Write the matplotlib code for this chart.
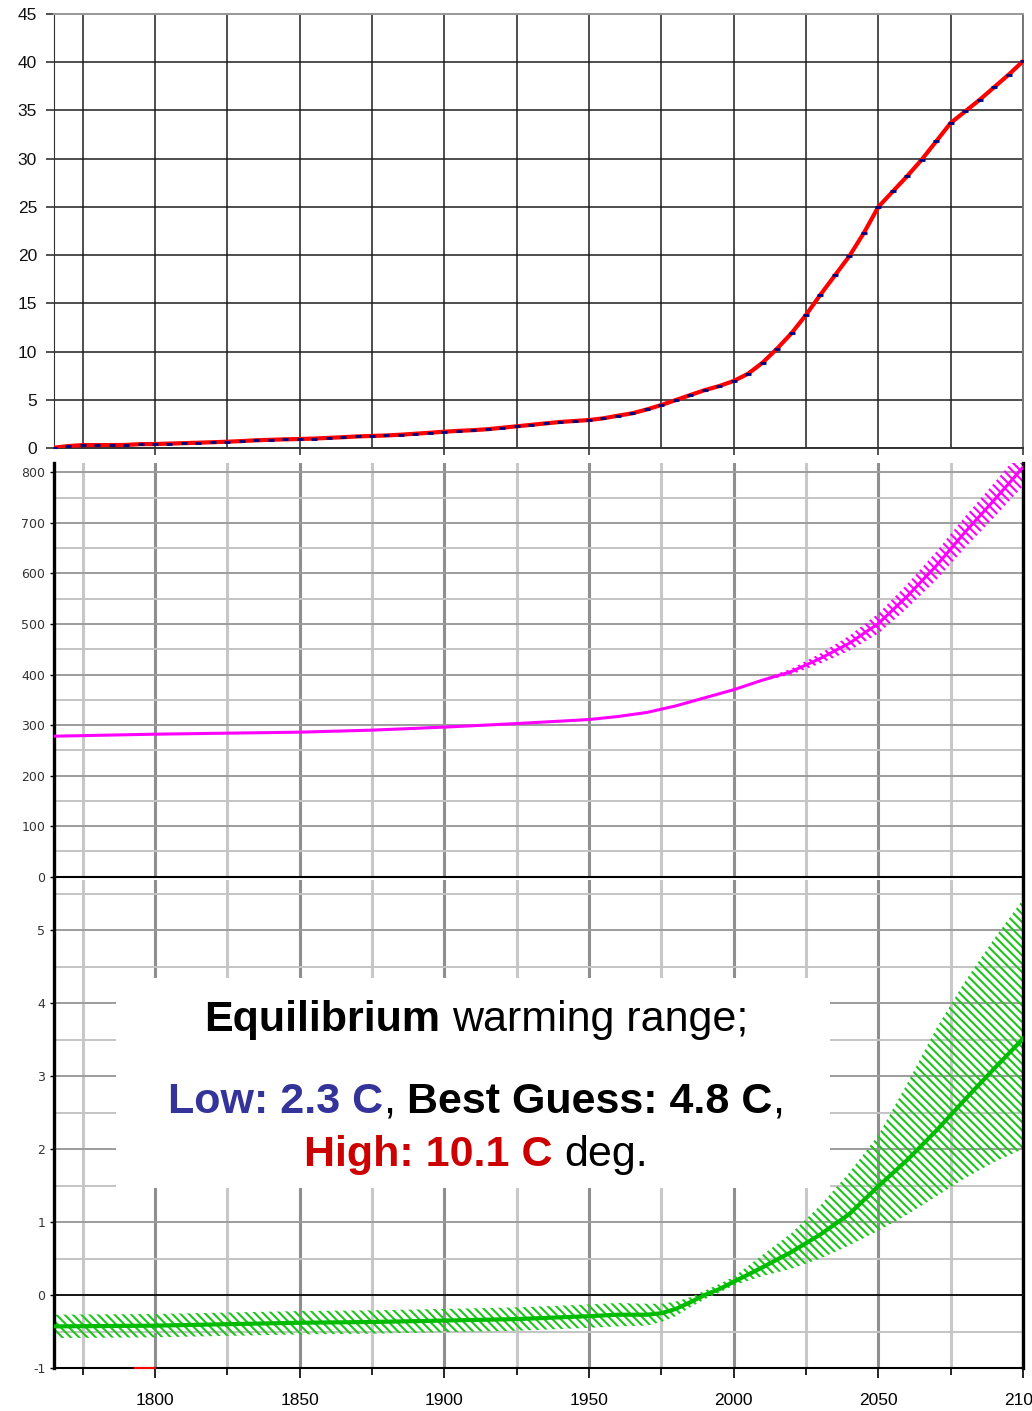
import numpy as np
import matplotlib
matplotlib.use("Agg")
import matplotlib.pyplot as plt
from matplotlib.patches import Rectangle

# ---------------------------------------------------------------- data
# cumulative emissions, every 5 years
emis_years = list(range(1765, 2101, 5))
emis_values = [0.03, 0.20, 0.30, 0.30, 0.30, 0.32, 0.40, 0.41,
               0.46, 0.50, 0.55, 0.60, 0.65, 0.72, 0.80, 0.85, 0.90, 0.93,
               0.98, 1.05, 1.12, 1.20, 1.25, 1.30, 1.38, 1.48, 1.58, 1.69,
               1.78, 1.85, 1.95, 2.10, 2.25, 2.40, 2.55, 2.70, 2.80, 2.90,
               3.08, 3.35, 3.60, 4.00, 4.46, 4.97, 5.49, 6.00, 6.42, 6.95,
               7.70, 8.85, 10.3, 11.9, 13.8, 15.9, 17.9, 19.9, 22.3, 25.0,
               26.6, 28.2, 29.9, 31.8, 33.7, 34.9, 36.1, 37.4, 38.7, 40.1]

# CO2 concentration (ppm)
co2_years = [1765, 1800, 1825, 1850, 1875, 1900, 1925, 1950, 1960, 1970, 1980,
             1990, 2000, 2010, 2020, 2030, 2040, 2050, 2060, 2070, 2080, 2090, 2100]
co2_mid = [278, 282, 284, 286, 290, 296, 303, 311, 317, 325, 338,
           354, 370, 389, 406, 432, 462, 501, 555, 615, 682, 745, 810]
co2_band_years = [2000, 2010, 2020, 2030, 2040, 2050, 2060, 2070, 2080, 2090, 2100]
co2_high = [370, 391, 412, 442, 477, 521, 579, 643, 713, 779, 847]
co2_low = [370, 387, 400, 422, 447, 481, 531, 587, 651, 711, 773]

# temperature change (deg C)
temp_years = [1765, 1800, 1825, 1850, 1875, 1900, 1925, 1950, 1960, 1970, 1975, 1980, 1985,
              1990, 1995, 2000, 2010, 2020, 2030, 2040, 2050, 2060, 2070, 2080, 2090, 2100]
temp_mid = [-0.43, -0.42, -0.40, -0.38, -0.37, -0.35, -0.33, -0.29, -0.27, -0.27, -0.25, -0.19,
            -0.10, 0.00, 0.08, 0.18, 0.38, 0.59, 0.83, 1.11, 1.49, 1.85, 2.25, 2.68, 3.10, 3.51]
temp_high = [-0.27, -0.26, -0.24, -0.22, -0.21, -0.19, -0.17, -0.13, -0.11, -0.12, -0.12, -0.09,
             -0.03, 0.06, 0.15, 0.25, 0.55, 0.85, 1.23, 1.68, 2.19, 2.90, 3.65, 4.30, 4.88, 5.42]
temp_low = [-0.59, -0.58, -0.56, -0.54, -0.53, -0.51, -0.49, -0.45, -0.43, -0.42, -0.37, -0.29,
            -0.17, -0.06, 0.03, 0.13, 0.26, 0.36, 0.50, 0.68, 0.88, 1.10, 1.35, 1.60, 1.82, 2.00]

stub_years = [1793, 1800]
stub_values = [-1.0, -1.0]

year_labels = ["1800", "1850", "1900", "1950", "2000", "2050", "2100"]

# ---------------------------------------------------------------- figure
W, H, DPI = 1032, 1411, 100
plt.rcParams["hatch.linewidth"] = 1.5
plt.rcParams["axes.unicode_minus"] = False
fig = plt.figure(figsize=(W / DPI, H / DPI), dpi=DPI)

X0_PX, X1_PX = 53.7, 1023.0
XLIM = (1765, 2100)


def add_panel(top_px, bottom_px):
    return fig.add_axes([X0_PX / W, 1 - bottom_px / H,
                         (X1_PX - X0_PX) / W, (bottom_px - top_px) / H])


major_x = np.arange(1800, 2101, 50)
minor_x = np.arange(1775, 2100, 25)

# ---------------- panel 1: cumulative emissions
ax1 = add_panel(14, 448)
ax1.set_xlim(*XLIM)
ax1.set_ylim(0, 45)
ax1.set_yticks(np.arange(0, 46, 5))
ax1.set_xticks(major_x)
ax1.set_xticks(minor_x, minor=True)
ax1.grid(True, which="both", axis="x", color="#1e1e1e", lw=1.1)
ax1.grid(True, which="major", axis="y", color="#1e1e1e", lw=1.1)
ax1.tick_params(axis="x", which="major", length=5, width=1.1, color="#222",
                labelbottom=False)
ax1.tick_params(axis="x", which="minor", length=0)
ax1.tick_params(axis="y", length=6, width=1.1, pad=6, labelsize=12.5,
                labelcolor="#111", color="#222")
for lab in ax1.get_yticklabels():
    lab.set_family("Liberation Sans")
ax1.spines["left"].set_color("#333")
ax1.spines["bottom"].set_color("#333")
ax1.spines["bottom"].set_linewidth(1.4)
ax1.spines["top"].set_color("#9a9a9a")
ax1.spines["top"].set_linewidth(1.4)
ax1.spines["right"].set_color("#777")
ax1.spines["right"].set_linewidth(1.4)
ax1.plot(emis_years, emis_values, color="#ff0000", lw=3.0, zorder=3,
         solid_joinstyle="round", solid_capstyle="round")
ax1.plot(emis_years, emis_values, ls="none", marker="_", ms=4.5, mew=2.0,
         color="#000080", zorder=4)


def grey_grid(ax):
    ax.grid(True, which="major", axis="x", color="#8f8f8f", lw=2.2)
    ax.grid(True, which="minor", axis="x", color="#c8c8c8", lw=2.2)
    ax.grid(True, which="major", axis="y", color="#9c9c9c", lw=1.4)
    ax.grid(True, which="minor", axis="y", color="#c4c4c4", lw=1.4)
    ax.spines["top"].set_visible(False)
    for side in ("left", "right"):
        ax.spines[side].set_linewidth(2.4)
        ax.spines[side].set_color("black")
    ax.spines["bottom"].set_linewidth(1.5)
    ax.tick_params(axis="y", which="major", length=3, width=1.0, pad=3,
                   labelsize=9, labelcolor="#333")
    ax.tick_params(axis="y", which="minor", length=0)


# ---------------- panel 2: CO2
ax2 = add_panel(463, 876.7)
ax2.set_xlim(*XLIM)
ax2.set_ylim(0, 818.6)
ax2.set_yticks(np.arange(0, 801, 100))
ax2.set_yticks(np.arange(50, 800, 100), minor=True)
ax2.set_xticks(major_x)
ax2.set_xticks(minor_x, minor=True)
grey_grid(ax2)
ax2.tick_params(axis="x", which="both", length=0, labelbottom=False)
ax2.fill_between(co2_band_years, co2_low, co2_high, facecolor="none",
                 edgecolor="#ff00ff", lw=0, hatch="\\\\\\\\", zorder=2.5)
ax2.plot(co2_years, co2_mid, color="#ff00ff", lw=2.2, zorder=3)

# ---------------- panel 3: temperature
ax3 = add_panel(880, 1368)
ax3.set_xlim(*XLIM)
ax3.set_ylim(-1, 5.685)
ax3.set_yticks(np.arange(-1, 6, 1))
ax3.set_yticks(np.arange(-0.5, 5.6, 1), minor=True)
ax3.set_xticks(major_x)
ax3.set_xticklabels(year_labels, family="Liberation Sans", fontsize=12.5)
ax3.set_xticks(minor_x, minor=True)
grey_grid(ax3)
ax3.tick_params(axis="x", which="major", length=7, width=1.2, pad=11)
ax3.tick_params(axis="x", which="minor", length=5, width=1.2)
ax3.axhline(0, color="black", lw=1.2, zorder=1.7)
ax3.fill_between(temp_years, temp_low, temp_high, facecolor="none",
                 edgecolor="#1fc41f", lw=0, hatch="\\\\\\\\", zorder=2.5)
ax3.plot(temp_years, temp_mid, color="#00bb00", lw=3.0, zorder=3,
         solid_joinstyle="round")
ax3.plot(stub_years, stub_values, color="#ff0000", lw=1.5, zorder=4, clip_on=False)

# white panel behind the annotation
BOX_PX = (116, 978, 830, 1188)  # left, top, right, bottom
ax_h = 1368 - 880
ax_w = X1_PX - X0_PX
ax3.add_patch(Rectangle(((BOX_PX[0] - X0_PX) / ax_w, (1368 - BOX_PX[3]) / ax_h),
                        (BOX_PX[2] - BOX_PX[0]) / ax_w, (BOX_PX[3] - BOX_PX[1]) / ax_h,
                        transform=ax3.transAxes, facecolor="white", edgecolor="none",
                        zorder=1.8))

# ---------------- annotation text, built from coloured pieces
FS = 31
FAMILY = "Liberation Sans"
renderer = fig.canvas.get_renderer()


def text_width(s, weight):
    t = fig.text(0, 0, s, fontsize=FS, family=FAMILY, fontweight=weight)
    w = t.get_window_extent(renderer).width
    t.remove()
    return w


SPACE_W = text_width("x x", "normal") - text_width("xx", "normal")

annotation = [
    ([("Equilibrium", "bold", "black"), (None, None, None),
      ("warming range;", "normal", "black")], 1031),
    ([("Low: 2.3 C", "bold", "#333399"), (",", "normal", "black"), (None, None, None),
      ("Best Guess: 4.8 C", "bold", "black"), (",", "normal", "black")], 1113),
    ([("High: 10.1 C", "bold", "#cc0000"), (None, None, None),
      ("deg.", "normal", "black")], 1166),
]
CENTER_X = 476

for pieces, base_px in annotation:
    items = []
    for s, weight, color in pieces:
        if s is None:
            items.append((None, SPACE_W))
            continue
        t = fig.text(0, 1 - base_px / H, s, fontsize=FS, family=FAMILY,
                     fontweight=weight, color=color, ha="left", va="baseline",
                     zorder=5)
        items.append((t, t.get_window_extent(renderer).width))
    total = sum(w for _, w in items)
    x = CENTER_X - total / 2
    for t, w in items:
        if t is not None:
            t.set_x(x / W)
        x += w

fig.savefig("out.png", dpi=DPI)
